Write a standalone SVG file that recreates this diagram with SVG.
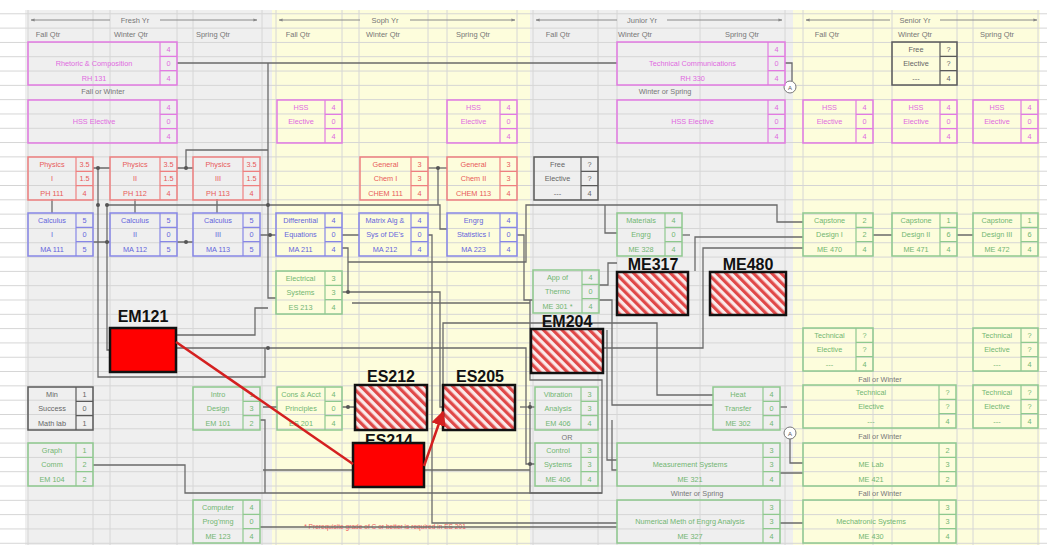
<svg xmlns="http://www.w3.org/2000/svg" width="1047" height="545" viewBox="0 0 1047 545">
<defs>
<pattern id="hatch" width="6.5" height="6.5" patternUnits="userSpaceOnUse" patternTransform="rotate(-45)">
<rect width="6.5" height="6.5" fill="#fbeaea"/>
<rect width="3.2" height="6.5" fill="#e04848"/>
</pattern>
<pattern id="grid" width="1047" height="14.31" patternUnits="userSpaceOnUse" y="-1">
<line x1="0" y1="0.5" x2="1047" y2="0.5" stroke="#d4d4d4" stroke-width="1"/>
</pattern>
<marker id="arr" viewBox="0 0 10 10" refX="9" refY="5" markerWidth="6" markerHeight="6" orient="auto"><path d="M0,0L10,5L0,10z" fill="#d42020"/></marker>
<marker id="hd" viewBox="0 0 10 10" refX="9" refY="5" markerWidth="4" markerHeight="4" orient="auto"><path d="M0,1L10,5L0,9z" fill="#888"/></marker>
</defs>
<style>
text{font-family:"Liberation Sans",Arial,sans-serif;font-size:7.3px;text-anchor:middle}
.hdr{fill:#777;font-size:7.5px}
.lbl{fill:#777;font-size:7.3px}
.n rect{fill:none;stroke-width:1.5}
.n path{fill:none;stroke-width:1.2}
.m rect,.m path{stroke:#e27be2}.m text{fill:#e06ae0}
.r rect,.r path{stroke:#ee8080}.r text{fill:#e85a5a}
.b rect,.b path{stroke:#8787e6}.b text{fill:#6565dc}
.g rect,.g path{stroke:#8fc98f}.g text{fill:#72b672}
.k rect,.k path{stroke:#5a5a5a}.k text{fill:#666}
.big{font-family:"Liberation Sans",Arial,sans-serif;font-weight:bold;font-size:16px;fill:#111}
.hat{fill:url(#hatch);stroke:#111;stroke-width:2.5}
.sol{fill:#ff0000;stroke:#111;stroke-width:2.5}
#conn path{fill:none;stroke:#6a6a6a;stroke-width:1.3}
#conn circle{fill:#555}
.hl{stroke:#8a8a8a;stroke-width:1;marker-end:url(#hd)}
</style>
<rect width="1047" height="545" fill="#ffffff"/>
<rect x="25" y="10" width="247" height="535" fill="#efefef"/>
<rect x="272" y="10" width="258" height="535" fill="#fdfddc"/>
<rect x="530" y="10" width="263" height="535" fill="#efefef"/>
<rect x="793" y="10" width="247" height="535" fill="#fdfddc"/>
<rect width="1047" height="545" fill="url(#grid)"/>
<g stroke="#d6d6d6" stroke-width="1">
<path d="M28,10V545M93,10V545M110,10V545M177,10V545M193,10V545M262,10V545M276,10V545M342,10V545M359,10V545M428,10V545M447,10V545M517,10V545M533,10V545M598,10V545M617,10V545M700,10V545M785,10V545M803,10V545M873,10V545M892,10V545M957,10V545M973,10V545M1038,10V545"/>
</g>

<g id="headers">
<line class="hl" x1="110" y1="20" x2="31" y2="20"/><line class="hl" x1="160" y1="20" x2="257" y2="20"/>
<text class="hdr" x="135" y="22.5">Fresh Yr</text>
<text class="hdr" x="48" y="37">Fall Qtr</text><text class="hdr" x="131" y="37">Winter Qtr</text><text class="hdr" x="213" y="37">Spring Qtr</text>
<line class="hl" x1="360" y1="20" x2="279" y2="20"/><line class="hl" x1="410" y1="20" x2="515" y2="20"/>
<text class="hdr" x="385" y="22.5">Soph Yr</text>
<text class="hdr" x="298" y="37">Fall Qtr</text><text class="hdr" x="383" y="37">Winter Qtr</text><text class="hdr" x="473" y="37">Spring Qtr</text>
<line class="hl" x1="617" y1="20" x2="536" y2="20"/><line class="hl" x1="667" y1="20" x2="782" y2="20"/>
<text class="hdr" x="642" y="22.5">Junior Yr</text>
<text class="hdr" x="558" y="37">Fall Qtr</text><text class="hdr" x="635" y="37">Winter Qtr</text><text class="hdr" x="742" y="37">Spring Qtr</text>
<line class="hl" x1="890" y1="20" x2="806" y2="20"/><line class="hl" x1="940" y1="20" x2="1037" y2="20"/>
<text class="hdr" x="915" y="22.5">Senior Yr</text>
<text class="hdr" x="827" y="37">Fall Qtr</text><text class="hdr" x="915" y="37">Winter Qtr</text><text class="hdr" x="997" y="37">Spring Qtr</text>
</g>

<g id="notes">
<text class="lbl" x="103" y="94">Fall or Winter</text>
<text class="lbl" x="665" y="94">Winter or Spring</text>
<text class="lbl" x="567" y="440">OR</text>
<text class="lbl" x="697" y="496">Winter or Spring</text>
<text class="lbl" x="880" y="382">Fall or Winter</text>
<text class="lbl" x="880" y="439">Fall or Winter</text>
<text class="lbl" x="880" y="496">Fall or Winter</text>
<text x="385" y="529" style="fill:#f06060;font-size:6.6px">* Prerequisite grade of C or better is required in ES 201</text>
</g>

<g id="conn">
<path d="M177,63H617"/>
<path d="M785,63H792V81"/>
<path d="M268,63V298H276"/>
<path d="M268,150H186V168"/>
<path d="M93,168H110M177,168H193"/>
<path d="M52,199V213M135,199V213M217,199V213"/>
<path d="M93,242H110M177,242H193"/>
<path d="M98,168V377H265V348"/>
<path d="M107,205V350H110"/>
<path d="M107,205H440V229H447"/>
<path d="M438,168V205"/>
<path d="M428,168H447"/>
<path d="M260,235H276M342,235H359"/>
<path d="M342,248H348V292"/>
<path d="M342,292H440V407H443"/>
<path d="M428,235H432V523H617"/>
<path d="M348,262H526V205H777V222H803"/>
<path d="M517,235H524V300H533"/>
<path d="M605,205V233H617"/>
<path d="M695,271V237H803"/>
<path d="M682,235H690"/>
<path d="M603,348H703V248H803"/>
<path d="M443,385V323H657V395H713"/>
<path d="M599,300H612V405H713"/>
<path d="M530,300V380H602V493H530V402"/>
<path d="M176,348H526V464H535"/>
<path d="M520,407H535"/>
<path d="M352,303H530"/>
<path d="M599,285H608V263H617"/>
<path d="M607,330V460H617"/>
<path d="M612,420V470H617"/>
<path d="M780,473H803M780,523H803"/>
<path d="M790,439V463H803"/>
<path d="M780,407H787"/>
<path d="M873,235H892M957,235H973"/>
<path d="M260,420H265V493"/>
<path d="M93,465H185V493H602"/>
<path d="M260,527H617"/>
<path d="M263,407H277M342,407H355"/>
<path d="M176,335H255V308H268"/>
<path d="M263,470H353M424,470H530"/>
<circle cx="98" cy="168" r="2"/><circle cx="186" cy="168" r="2"/><circle cx="107" cy="242" r="2"/><circle cx="186" cy="242" r="2"/>
<circle cx="98" cy="205" r="2"/><circle cx="107" cy="205" r="2"/><circle cx="268" cy="205" r="2"/><circle cx="438" cy="168" r="2"/>
<circle cx="270" cy="235" r="2"/><circle cx="348" cy="292" r="2"/><circle cx="268" cy="348" r="2"/><circle cx="530" cy="407" r="2"/>
<circle cx="530" cy="464" r="2"/><circle cx="348" cy="407" r="2"/>
</g>

<g id="markers">
<g id="circA1"><circle cx="790" cy="87" r="6" fill="#fff" stroke="#777" stroke-width="1"/><text x="790" y="89.5" style="font-size:6px;fill:#555">A</text></g>
<g id="circA2"><circle cx="790" cy="433" r="6" fill="#fff" stroke="#777" stroke-width="1"/><text x="790" y="435.5" style="font-size:6px;fill:#555">A</text></g>
</g>

<g id="rh131" class="n m"><rect x="28" y="42" width="149" height="43"/><path d="M160,42V85M160,56.3H177M160,70.7H177"/><text x="94" y="66.2">Rhetoric &amp; Composition</text><text x="94" y="80.5">RH 131</text><text x="168.5" y="51.9">4</text><text x="168.5" y="66.2">0</text><text x="168.5" y="80.5">4</text></g>
<g id="hss1" class="n m"><rect x="28" y="100" width="149" height="43"/><path d="M160,100V143M160,114.3H177M160,128.7H177"/><text x="94" y="124.2">HSS Elective</text><text x="168.5" y="109.9">4</text><text x="168.5" y="124.2">0</text><text x="168.5" y="138.5">4</text></g>
<g id="ph111" class="n r"><rect x="28" y="157" width="65" height="43"/><path d="M76,157V200M76,171.3H93M76,185.7H93"/><text x="52" y="166.9">Physics</text><text x="52" y="181.2">I</text><text x="52" y="195.5">PH 111</text><text x="84.5" y="166.9">3.5</text><text x="84.5" y="181.2">1.5</text><text x="84.5" y="195.5">4</text></g>
<g id="ph112" class="n r"><rect x="110" y="157" width="67" height="43"/><path d="M160,157V200M160,171.3H177M160,185.7H177"/><text x="135" y="166.9">Physics</text><text x="135" y="181.2">II</text><text x="135" y="195.5">PH 112</text><text x="168.5" y="166.9">3.5</text><text x="168.5" y="181.2">1.5</text><text x="168.5" y="195.5">4</text></g>
<g id="ph113" class="n r"><rect x="193" y="157" width="67" height="43"/><path d="M243,157V200M243,171.3H260M243,185.7H260"/><text x="218" y="166.9">Physics</text><text x="218" y="181.2">III</text><text x="218" y="195.5">PH 113</text><text x="251.5" y="166.9">3.5</text><text x="251.5" y="181.2">1.5</text><text x="251.5" y="195.5">4</text></g>
<g id="ma111" class="n b"><rect x="28" y="213" width="65" height="43"/><path d="M76,213V256M76,227.3H93M76,241.7H93"/><text x="52" y="222.9">Calculus</text><text x="52" y="237.2">I</text><text x="52" y="251.5">MA 111</text><text x="84.5" y="222.9">5</text><text x="84.5" y="237.2">0</text><text x="84.5" y="251.5">5</text></g>
<g id="ma112" class="n b"><rect x="110" y="213" width="67" height="43"/><path d="M160,213V256M160,227.3H177M160,241.7H177"/><text x="135" y="222.9">Calculus</text><text x="135" y="237.2">II</text><text x="135" y="251.5">MA 112</text><text x="168.5" y="222.9">5</text><text x="168.5" y="237.2">0</text><text x="168.5" y="251.5">5</text></g>
<g id="ma113" class="n b"><rect x="193" y="213" width="67" height="43"/><path d="M243,213V256M243,227.3H260M243,241.7H260"/><text x="218" y="222.9">Calculus</text><text x="218" y="237.2">III</text><text x="218" y="251.5">MA 113</text><text x="251.5" y="222.9">5</text><text x="251.5" y="237.2">0</text><text x="251.5" y="251.5">5</text></g>
<g id="minsuccess" class="n k"><rect x="28" y="387" width="65" height="43"/><path d="M76,387V430M76,401.3H93M76,415.7H93"/><text x="52" y="396.9">Min</text><text x="52" y="411.2">Success</text><text x="52" y="425.5">Math lab</text><text x="84.5" y="396.9">1</text><text x="84.5" y="411.2">0</text><text x="84.5" y="425.5">1</text></g>
<g id="em104" class="n g"><rect x="28" y="443" width="65" height="43"/><path d="M76,443V486M76,457.3H93M76,471.7H93"/><text x="52" y="452.9">Graph</text><text x="52" y="467.2">Comm</text><text x="52" y="481.5">EM 104</text><text x="84.5" y="452.9">1</text><text x="84.5" y="467.2">2</text><text x="84.5" y="481.5">2</text></g>
<g id="em101" class="n g"><rect x="193" y="387" width="67" height="43"/><path d="M243,387V430M243,401.3H260M243,415.7H260"/><text x="218" y="396.9">Intro</text><text x="218" y="411.2">Design</text><text x="218" y="425.5">EM 101</text><text x="251.5" y="396.9">1</text><text x="251.5" y="411.2">3</text><text x="251.5" y="425.5">2</text></g>
<g id="me123" class="n g"><rect x="193" y="500" width="67" height="43"/><path d="M243,500V543M243,514.3H260M243,528.7H260"/><text x="218" y="509.9">Computer</text><text x="218" y="524.2">Prog'mng</text><text x="218" y="538.5">ME 123</text><text x="251.5" y="509.9">4</text><text x="251.5" y="524.2">0</text><text x="251.5" y="538.5">4</text></g>

<g id="hss2" class="n m"><rect x="277" y="100" width="65" height="43"/><path d="M325,100V143M325,114.3H342M325,128.7H342"/><text x="301" y="109.9">HSS</text><text x="301" y="124.2">Elective</text><text x="333.5" y="109.9">4</text><text x="333.5" y="124.2">0</text><text x="333.5" y="138.5">4</text></g>
<g id="hss3" class="n m"><rect x="447" y="100" width="70" height="43"/><path d="M500,100V143M500,114.3H517M500,128.7H517"/><text x="473.5" y="109.9">HSS</text><text x="473.5" y="124.2">Elective</text><text x="508.5" y="109.9">4</text><text x="508.5" y="124.2">0</text><text x="508.5" y="138.5">4</text></g>
<g id="chem111" class="n r"><rect x="360" y="157" width="68" height="43"/><path d="M411,157V200M411,171.3H428M411,185.7H428"/><text x="385.5" y="166.9">General</text><text x="385.5" y="181.2">Chem I</text><text x="385.5" y="195.5">CHEM 111</text><text x="419.5" y="166.9">3</text><text x="419.5" y="181.2">3</text><text x="419.5" y="195.5">4</text></g>
<g id="chem113" class="n r"><rect x="447" y="157" width="70" height="43"/><path d="M500,157V200M500,171.3H517M500,185.7H517"/><text x="473.5" y="166.9">General</text><text x="473.5" y="181.2">Chem II</text><text x="473.5" y="195.5">CHEM 113</text><text x="508.5" y="166.9">3</text><text x="508.5" y="181.2">3</text><text x="508.5" y="195.5">4</text></g>
<g id="ma211" class="n b"><rect x="276" y="213" width="66" height="43"/><path d="M325,213V256M325,227.3H342M325,241.7H342"/><text x="300.5" y="222.9">Differential</text><text x="300.5" y="237.2">Equations</text><text x="300.5" y="251.5">MA 211</text><text x="333.5" y="222.9">4</text><text x="333.5" y="237.2">0</text><text x="333.5" y="251.5">4</text></g>
<g id="ma212" class="n b"><rect x="359" y="213" width="69" height="43"/><path d="M411,213V256M411,227.3H428M411,241.7H428"/><text x="385" y="222.9">Matrix Alg &amp;</text><text x="385" y="237.2">Sys of DE's</text><text x="385" y="251.5">MA 212</text><text x="419.5" y="222.9">4</text><text x="419.5" y="237.2">0</text><text x="419.5" y="251.5">4</text></g>
<g id="ma223" class="n b"><rect x="447" y="213" width="70" height="43"/><path d="M500,213V256M500,227.3H517M500,241.7H517"/><text x="473.5" y="222.9">Engrg</text><text x="473.5" y="237.2">Statistics I</text><text x="473.5" y="251.5">MA 223</text><text x="508.5" y="222.9">4</text><text x="508.5" y="237.2">0</text><text x="508.5" y="251.5">4</text></g>
<g id="es213" class="n g"><rect x="276" y="271" width="66" height="43"/><path d="M325,271V314M325,285.3H342M325,299.7H342"/><text x="300.5" y="280.9">Electrical</text><text x="300.5" y="295.2">Systems</text><text x="300.5" y="309.5">ES 213</text><text x="333.5" y="280.9">3</text><text x="333.5" y="295.2">3</text><text x="333.5" y="309.5">4</text></g>
<g id="es201" class="n g"><rect x="277" y="387" width="65" height="43"/><path d="M325,387V430M325,401.3H342M325,415.7H342"/><text x="301" y="396.9">Cons &amp; Acct</text><text x="301" y="411.2">Principles</text><text x="301" y="425.5">ES 201</text><text x="333.5" y="396.9">4</text><text x="333.5" y="411.2">0</text><text x="333.5" y="425.5">4</text></g>

<g id="free1" class="n k"><rect x="534" y="157" width="64" height="43"/><path d="M581,157V200M581,171.3H598M581,185.7H598"/><text x="557.5" y="166.9">Free</text><text x="557.5" y="181.2">Elective</text><text x="557.5" y="195.5">---</text><text x="589.5" y="166.9">?</text><text x="589.5" y="181.2">?</text><text x="589.5" y="195.5">4</text></g>
<g id="rh330" class="n m"><rect x="617" y="42" width="168" height="43"/><path d="M768,42V85M768,56.3H785M768,70.7H785"/><text x="692.5" y="66.2">Technical Communications</text><text x="692.5" y="80.5">RH 330</text><text x="776.5" y="51.9">4</text><text x="776.5" y="66.2">0</text><text x="776.5" y="80.5">4</text></g>
<g id="hss4" class="n m"><rect x="617" y="100" width="168" height="43"/><path d="M768,100V143M768,114.3H785M768,128.7H785"/><text x="692.5" y="124.2">HSS Elective</text><text x="776.5" y="109.9">4</text><text x="776.5" y="124.2">0</text><text x="776.5" y="138.5">4</text></g>
<g id="me328" class="n g"><rect x="617" y="213" width="65" height="43"/><path d="M665,213V256M665,227.3H682M665,241.7H682"/><text x="641" y="222.9">Materials</text><text x="641" y="237.2">Engrg</text><text x="641" y="251.5">ME 328</text><text x="673.5" y="222.9">4</text><text x="673.5" y="237.2">0</text><text x="673.5" y="251.5">4</text></g>
<g id="me301" class="n g"><rect x="533" y="270" width="66" height="43"/><path d="M582,270V313M582,284.3H599M582,298.7H599"/><text x="557.5" y="279.9">App of</text><text x="557.5" y="294.2">Thermo</text><text x="557.5" y="308.5">ME 301 *</text><text x="590.5" y="279.9">4</text><text x="590.5" y="294.2">0</text><text x="590.5" y="308.5">4</text></g>
<g id="em406" class="n g"><rect x="535" y="387" width="63" height="43"/><path d="M581,387V430M581,401.3H598M581,415.7H598"/><text x="558" y="396.9">Vibration</text><text x="558" y="411.2">Analysis</text><text x="558" y="425.5">EM 406</text><text x="589.5" y="396.9">3</text><text x="589.5" y="411.2">3</text><text x="589.5" y="425.5">4</text></g>
<g id="me406" class="n g"><rect x="535" y="443" width="63" height="43"/><path d="M581,443V486M581,457.3H598M581,471.7H598"/><text x="558" y="452.9">Control</text><text x="558" y="467.2">Systems</text><text x="558" y="481.5">ME 406</text><text x="589.5" y="452.9">3</text><text x="589.5" y="467.2">3</text><text x="589.5" y="481.5">4</text></g>
<g id="me302" class="n g"><rect x="713" y="387" width="67" height="43"/><path d="M763,387V430M763,401.3H780M763,415.7H780"/><text x="738" y="396.9">Heat</text><text x="738" y="411.2">Transfer</text><text x="738" y="425.5">ME 302</text><text x="771.5" y="396.9">4</text><text x="771.5" y="411.2">0</text><text x="771.5" y="425.5">4</text></g>
<g id="me321" class="n g"><rect x="617" y="443" width="163" height="43"/><path d="M763,443V486M763,457.3H780M763,471.7H780"/><text x="690" y="467.2">Measurement Systems</text><text x="690" y="481.5">ME 321</text><text x="771.5" y="452.9">3</text><text x="771.5" y="467.2">3</text><text x="771.5" y="481.5">4</text></g>
<g id="me327" class="n g"><rect x="617" y="500" width="163" height="43"/><path d="M763,500V543M763,514.3H780M763,528.7H780"/><text x="690" y="524.2">Numerical Meth of Engrg Analysis</text><text x="690" y="538.5">ME 327</text><text x="771.5" y="509.9">3</text><text x="771.5" y="524.2">3</text><text x="771.5" y="538.5">4</text></g>

<g id="free2" class="n k"><rect x="892" y="42" width="65" height="43"/><path d="M940,42V85M940,56.3H957M940,70.7H957"/><text x="916" y="51.9">Free</text><text x="916" y="66.2">Elective</text><text x="916" y="80.5">---</text><text x="948.5" y="51.9">?</text><text x="948.5" y="66.2">?</text><text x="948.5" y="80.5">4</text></g>
<g id="hss5" class="n m"><rect x="803" y="100" width="70" height="43"/><path d="M856,100V143M856,114.3H873M856,128.7H873"/><text x="829.5" y="109.9">HSS</text><text x="829.5" y="124.2">Elective</text><text x="864.5" y="109.9">4</text><text x="864.5" y="124.2">0</text><text x="864.5" y="138.5">4</text></g>
<g id="hss6" class="n m"><rect x="892" y="100" width="65" height="43"/><path d="M940,100V143M940,114.3H957M940,128.7H957"/><text x="916" y="109.9">HSS</text><text x="916" y="124.2">Elective</text><text x="948.5" y="109.9">4</text><text x="948.5" y="124.2">0</text><text x="948.5" y="138.5">4</text></g>
<g id="hss7" class="n m"><rect x="973" y="100" width="65" height="43"/><path d="M1021,100V143M1021,114.3H1038M1021,128.7H1038"/><text x="997" y="109.9">HSS</text><text x="997" y="124.2">Elective</text><text x="1029.5" y="109.9">4</text><text x="1029.5" y="124.2">0</text><text x="1029.5" y="138.5">4</text></g>
<g id="me470" class="n g"><rect x="803" y="213" width="70" height="43"/><path d="M856,213V256M856,227.3H873M856,241.7H873"/><text x="829.5" y="222.9">Capstone</text><text x="829.5" y="237.2">Design I</text><text x="829.5" y="251.5">ME 470</text><text x="864.5" y="222.9">2</text><text x="864.5" y="237.2">2</text><text x="864.5" y="251.5">4</text></g>
<g id="me471" class="n g"><rect x="892" y="213" width="65" height="43"/><path d="M940,213V256M940,227.3H957M940,241.7H957"/><text x="916" y="222.9">Capstone</text><text x="916" y="237.2">Design II</text><text x="916" y="251.5">ME 471</text><text x="948.5" y="222.9">1</text><text x="948.5" y="237.2">6</text><text x="948.5" y="251.5">4</text></g>
<g id="me472" class="n g"><rect x="973" y="213" width="65" height="43"/><path d="M1021,213V256M1021,227.3H1038M1021,241.7H1038"/><text x="997" y="222.9">Capstone</text><text x="997" y="237.2">Design III</text><text x="997" y="251.5">ME 472</text><text x="1029.5" y="222.9">1</text><text x="1029.5" y="237.2">6</text><text x="1029.5" y="251.5">4</text></g>
<g id="te1" class="n g"><rect x="803" y="328" width="70" height="43"/><path d="M856,328V371M856,342.3H873M856,356.7H873"/><text x="829.5" y="337.9">Technical</text><text x="829.5" y="352.2">Elective</text><text x="829.5" y="366.5">---</text><text x="864.5" y="337.9">?</text><text x="864.5" y="352.2">?</text><text x="864.5" y="366.5">4</text></g>
<g id="te2" class="n g"><rect x="973" y="328" width="65" height="43"/><path d="M1021,328V371M1021,342.3H1038M1021,356.7H1038"/><text x="997" y="337.9">Technical</text><text x="997" y="352.2">Elective</text><text x="997" y="366.5">---</text><text x="1029.5" y="337.9">?</text><text x="1029.5" y="352.2">?</text><text x="1029.5" y="366.5">4</text></g>
<g id="te3" class="n g"><rect x="803" y="385" width="153" height="43"/><path d="M939,385V428M939,399.3H956M939,413.7H956"/><text x="871" y="394.9">Technical</text><text x="871" y="409.2">Elective</text><text x="871" y="423.5">---</text><text x="947.5" y="394.9">?</text><text x="947.5" y="409.2">?</text><text x="947.5" y="423.5">4</text></g>
<g id="te4" class="n g"><rect x="973" y="385" width="65" height="43"/><path d="M1021,385V428M1021,399.3H1038M1021,413.7H1038"/><text x="997" y="394.9">Technical</text><text x="997" y="409.2">Elective</text><text x="997" y="423.5">---</text><text x="1029.5" y="394.9">?</text><text x="1029.5" y="409.2">?</text><text x="1029.5" y="423.5">4</text></g>
<g id="me421" class="n g"><rect x="803" y="443" width="153" height="43"/><path d="M939,443V486M939,457.3H956M939,471.7H956"/><text x="871" y="467.2">ME Lab</text><text x="871" y="481.5">ME 421</text><text x="947.5" y="452.9">2</text><text x="947.5" y="467.2">3</text><text x="947.5" y="481.5">2</text></g>
<g id="me430" class="n g"><rect x="803" y="500" width="153" height="43"/><path d="M939,500V543M939,514.3H956M939,528.7H956"/><text x="871" y="524.2">Mechatronic Systems</text><text x="871" y="538.5">ME 430</text><text x="947.5" y="509.9">3</text><text x="947.5" y="524.2">3</text><text x="947.5" y="538.5">4</text></g>

<g id="EM121"><text class="big" x="143" y="322">EM121</text><rect class="sol" x="110" y="328" width="66" height="44"/></g>
<g id="ME317"><text class="big" x="653" y="270">ME317</text><rect class="hat" x="617" y="272" width="71" height="43"/></g>
<g id="ME480"><text class="big" x="748" y="270">ME480</text><rect class="hat" x="710" y="272" width="76" height="43"/></g>
<g id="EM204"><text class="big" x="567" y="327">EM204</text><rect class="hat" x="531" y="329" width="72" height="44"/></g>
<g id="ES212"><text class="big" x="391" y="382">ES212</text><rect class="hat" x="355" y="385" width="72" height="45"/></g>
<g id="ES205"><text class="big" x="480" y="382">ES205</text><rect class="hat" x="443" y="385" width="72" height="45"/></g>
<g id="ES214"><text class="big" x="389" y="446">ES214</text><rect class="sol" x="353" y="443" width="71" height="44"/></g>

<g id="redlinks" stroke="#d42020" stroke-width="2.5" fill="none">
<path d="M176,342L353,464"/>
<path d="M424,466L443,412" marker-end="url(#arr)"/>
</g>
</svg>
